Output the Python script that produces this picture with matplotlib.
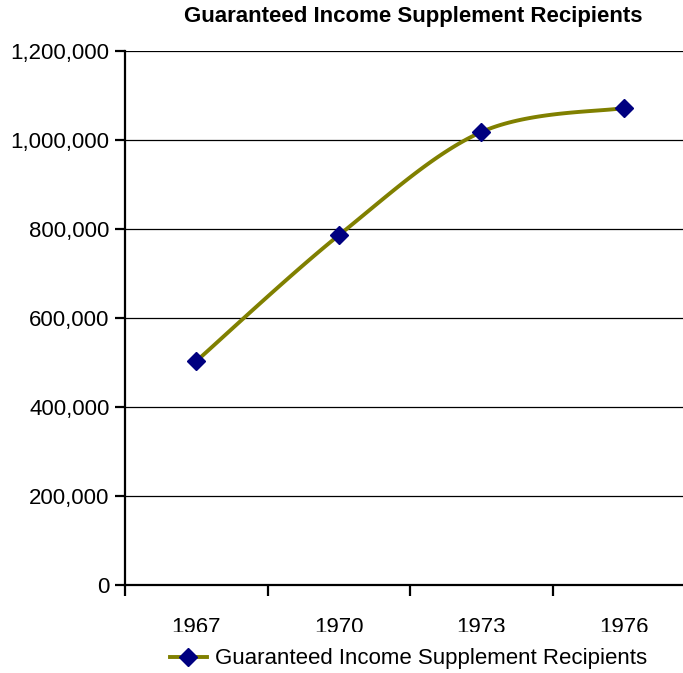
import numpy as np
import matplotlib
matplotlib.use("Agg")
import matplotlib.pyplot as plt
from matplotlib.ticker import FuncFormatter
from matplotlib.transforms import Bbox, TransformedBbox

plt.rcParams['font.family'] = ['Liberation Sans', 'DejaVu Sans']

years = ['1967', '1970', '1973', '1976']
recipients = [503000, 786000, 1018000, 1072000]
series_name = 'Guaranteed Income Supplement Recipients'


def smooth(xs, ys, n=40):
    # Excel-like smoothed line (Catmull-Rom as cubic Bezier)
    p = np.column_stack([xs, ys]).astype(float)
    p = np.vstack([p[0], p, p[-1]])
    out = []
    for i in range(1, len(p) - 2):
        p0, p1, p2, p3 = p[i - 1], p[i], p[i + 1], p[i + 2]
        c1 = p1 + (p2 - p0) / 6.0
        c2 = p2 - (p3 - p1) / 6.0
        t = np.linspace(0, 1, n)[:, None]
        seg = ((1 - t) ** 3) * p1 + 3 * ((1 - t) ** 2) * t * c1 + 3 * (1 - t) * t ** 2 * c2 + t ** 3 * p2
        out.append(seg if i == 1 else seg[1:])
    return np.vstack(out)


fig = plt.figure(figsize=(6.83, 6.73), dpi=100)
ax = fig.add_axes([0.183, 0.1308, 0.835, 0.7934])

x = np.arange(len(years))
curve = smooth(x, recipients)
ax.plot(curve[:, 0], curve[:, 1], color='#808000', lw=2.8, zorder=3, solid_capstyle='round')
ax.plot(x, recipients, ls='none', marker='D', ms=9, color='#000080', zorder=4)

ax.set_xlim(-0.5, len(years) - 0.5)
ax.set_ylim(0, 1200000)
ax.set_yticks(np.arange(0, 1200001, 200000))
ax.yaxis.set_major_formatter(FuncFormatter(lambda v, p: f'{int(v):,}'))
ax.grid(axis='y', color='black', lw=0.9)
ax.set_axisbelow(True)

ax.set_xticks(np.arange(len(years)) - 0.5)
ax.set_xticklabels([])
ax.set_xticks(x, minor=True)
ax.set_xticklabels(years, minor=True)
ax.tick_params(axis='x', which='major', direction='out', length=8, width=1.6, color='black')
ax.tick_params(axis='x', which='minor', length=0, labelsize=16, pad=23)
ax.tick_params(axis='y', direction='out', length=7, width=1.6, labelsize=16, pad=4)

for s in ['top', 'right']:
    ax.spines[s].set_visible(False)
ax.spines['left'].set_linewidth(1.6)
ax.spines['bottom'].set_linewidth(1.6)

# the category labels are cut off at the bottom in the original
clip = TransformedBbox(Bbox([[0, 41 / 673], [1, 1]]), fig.transFigure)
for lbl in ax.get_xticklabels(minor=True):
    lbl.set_clip_box(clip)
    lbl.set_clip_on(True)

fig.text(0.605, 0.976, series_name, ha='center', va='center', fontsize=16, fontweight='bold')

ax.legend(handles=[plt.Line2D([], [], color='#808000', lw=2.8, marker='D', ms=9,
                              mfc='#000080', mec='#000080')],
          labels=[series_name], loc='center', bbox_to_anchor=(0.598, 0.021),
          bbox_transform=fig.transFigure, frameon=False, fontsize=16,
          handlelength=1.7, handletextpad=0.35, borderpad=0)

fig.savefig('out.png', dpi=100)
